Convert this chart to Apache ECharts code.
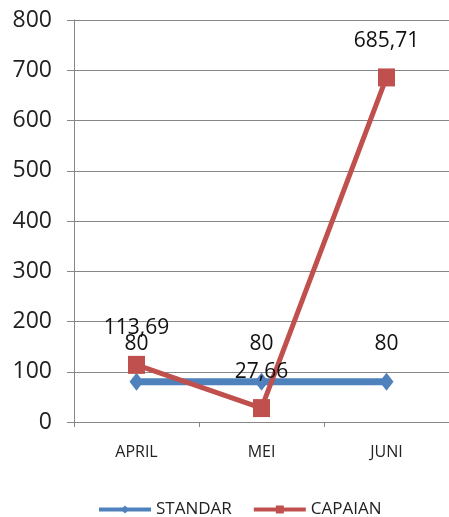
<!DOCTYPE html>
<html><head><meta charset="utf-8">
<script src="https://cdn.jsdelivr.net/npm/echarts@6/dist/echarts.min.js"></script>
<style>html,body{margin:0;padding:0;background:#fff}#c{width:449px;height:517px}</style>
</head><body><div id="c"></div>
<script>
var categories = ['APRIL', 'MEI', 'JUNI'];
var standar = [80, 80, 80];
var capaian = [113.69, 27.66, 685.71];
var yTicks = [0, 100, 200, 300, 400, 500, 600, 700, 800];

var chart = echarts.init(document.getElementById('c'));
function fmt(v){ return String(v).replace('.', ','); }
var font = 'Open Sans, Noto Sans, sans-serif';
chart.setOption({
  animation: false,
  textStyle: {fontFamily: font},
  grid: {left: 74, right: 0, top: 20, bottom: 95},
  xAxis: {
    type: 'category', data: categories, boundaryGap: true,
    axisLine: {lineStyle: {color: '#868686'}},
    axisTick: {show: true, length: 5, lineStyle: {color: '#868686'}},
    axisLabel: {color: '#222', fontSize: 16, margin: 22, fontFamily: font}
  },
  yAxis: {
    type: 'value', min: yTicks[0], max: yTicks[yTicks.length-1], interval: 100,
    axisLine: {show: true, lineStyle: {color: '#868686'}},
    axisTick: {show: true, length: 7, lineStyle: {color: '#868686'}},
    splitLine: {lineStyle: {color: '#868686'}},
    axisLabel: {color: '#222', fontSize: 23, margin: 22, fontFamily: font}
  },
  legend: {
    left: 92, top: 496, itemWidth: 52, itemHeight: 10, itemGap: 20,
    textStyle: {fontSize: 17, color: '#222', fontFamily: font},
    lineStyle: {width: 4},
    data: ['STANDAR', 'CAPAIAN']
  },
  series: [
    {
      name: 'STANDAR', type: 'line', data: standar,
      symbol: 'diamond', symbolSize: [14, 18],
      lineStyle: {color: '#4F81BD', width: 7},
      itemStyle: {color: '#4F81BD'},
      label: {show: true, position: 'top', distance: 18, fontSize: 21, color: '#111', fontFamily: font, formatter: function(p){return fmt(p.value);}}
    },
    {
      name: 'CAPAIAN', type: 'line', data: capaian,
      symbol: 'rect', symbolSize: [17, 18],
      lineStyle: {color: '#C0504D', width: 5},
      itemStyle: {color: '#C0504D'},
      z: 3,
      label: {show: true, position: 'top', distance: 17, fontSize: 21, color: '#111', fontFamily: font, formatter: function(p){return fmt(p.value);}}
    }
  ]
});
</script></body></html>
